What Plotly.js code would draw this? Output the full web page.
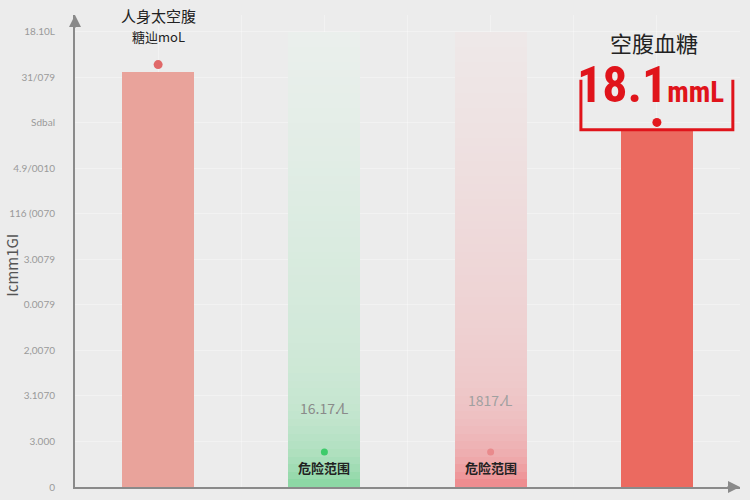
<!DOCTYPE html>
<html>
<head>
<meta charset="utf-8">
<script src="https://cdn.plot.ly/plotly-3.0.1.min.js"></script>
<style>html,body{margin:0;padding:0;background:#ececec;}#chart{width:750px;height:500px;}</style>
</head>
<body>
<div id="chart"></div>
<script>
// ---- data ----
const categories = [0, 1, 2, 3];
const barValues = [9.12, null, null, 7.85];
const rangeTops = [null, 10.0, 10.0, null];
const tickVals = [0, 1, 2, 3, 4, 5, 6, 7, 8, 9, 10];
const tickText = ['0', '3.000', '3.1070', '2,0070', '0.0079', '3.0079', '116 (0070', '4.9/0010', 'Sdbal', '31/079', '18.10L'];
const topTitle = ['人身太空腹', '糖辿moL'];
const rightTitle = '空腹血糖';
const bigValue = '18.1';
const bigUnit = 'mmL';
const rangeLabels = [null, '16.17.⁄L', '1817.⁄L', null];
const rangeTexts = [null, '危险范围', '危险范围', null];

const BAR_W = 0.433;
const FONT = '"Noto Sans CJK SC", "Noto Sans", sans-serif';

const traces = [];

// gradient columns (danger ranges) built as thin stacked slices
const N = 60;
function mix(a, b, t) { return a.map((v, i) => Math.round(v + (b[i] - v) * t)); }
function gradColor(kind, frac) {
  const g = 1 - frac;
  const w = Math.min(1, 0.4 * Math.pow(g, 1.2) + 0.6 * Math.pow(g, 12));
  const c = kind === 'g'
    ? mix([234, 239, 236], [135, 214, 160], w)
    : mix([238, 232, 232], [238, 135, 138], w);
  return 'rgb(' + c.join(',') + ')';
}
const colIdx = categories.filter((c, i) => rangeTops[i] !== null);
for (let s = 0; s < N; s++) {
  const xs = [], bases = [], ys = [], cols = [];
  colIdx.forEach(ci => {
    const top = rangeTops[ci];
    const h = top / N;
    xs.push(categories[ci]);
    bases.push(s * h);
    ys.push(h * 1.02);
    cols.push(gradColor(ci === 1 ? 'g' : 'p', (s + 0.5) / N));
  });
  traces.push({
    type: 'bar', x: xs, y: ys, base: bases, width: BAR_W,
    marker: { color: cols, line: { width: 0 } },
    hoverinfo: 'skip', showlegend: false
  });
}

// main bars
traces.push({
  type: 'bar', x: categories, y: barValues, width: BAR_W,
  marker: { color: ['#e9a39b', null, null, '#eb6a60'], line: { width: 0 } },
  showlegend: false, hoverinfo: 'skip'
});

// dots above bars
const DOT_OFF = 0.16;
traces.push({
  type: 'scatter', mode: 'markers',
  x: categories.filter((c, i) => barValues[i] !== null),
  y: barValues.filter(v => v !== null).map(v => v + DOT_OFF),
  marker: { size: 9, color: ['#e06868', '#e3191f'] },
  showlegend: false, hoverinfo: 'skip', cliponaxis: false
});
// dots in range columns
traces.push({
  type: 'scatter', mode: 'markers',
  x: colIdx.map(ci => categories[ci]),
  y: [0.77, 0.77],
  marker: { size: 7, color: ['#3ecb6b', '#e98a8c'] },
  showlegend: false, hoverinfo: 'skip'
});

const annotations = [
  // axis arrows
  { xref: 'paper', yref: 'paper', x: 0, y: 1.0, ax: 0, ay: 14, axref: 'pixel', ayref: 'pixel',
    showarrow: true, arrowhead: 2, arrowsize: 1.2, arrowwidth: 2, arrowcolor: '#8a8a8a', text: '' },
  { xref: 'paper', yref: 'paper', x: 1.0, y: 0, ax: -14, ay: 0, axref: 'pixel', ayref: 'pixel',
    showarrow: true, arrowhead: 2, arrowsize: 1.2, arrowwidth: 2, arrowcolor: '#8a8a8a', text: '' },
  // y axis title
  { xref: 'paper', yref: 'paper', x: -0.0955, xanchor: 'center', y: 0.47, text: 'Icmm1GI', textangle: -90, showarrow: false,
    font: { family: FONT, size: 15, color: '#555' } },
  // top titles over bar 1
  { x: categories[0], y: 10.35, text: topTitle[0], showarrow: false, font: { family: FONT, size: 15, color: '#222' } },
  { x: categories[0], y: 9.9, text: topTitle[1], showarrow: false, font: { family: FONT, size: 13, color: '#222' } },
  // right title
  { x: categories[3] - 0.02, y: 9.78, text: rightTitle, showarrow: false, font: { family: FONT, size: 22, color: '#222' } },
  { x: categories[3] - 0.04, y: 8.83, showarrow: false,
    text: '<b><span style="font-size:50px">' + bigValue + '</span><span style="font-size:29px">' + bigUnit + '</span></b>',
    font: { family: '"Liberation Sans Narrow", "Roboto Condensed", Roboto, sans-serif', size: 50, color: '#e0141b' } }
];
colIdx.forEach(ci => {
  annotations.push({ x: categories[ci], y: ci === 1 ? 1.74 : 1.91, text: rangeLabels[ci], showarrow: false,
    font: { family: FONT, size: 14, color: ci === 1 ? '#8a8a8a' : '#a0a0a0' } });
  annotations.push({ x: categories[ci], y: 0.42, text: '<b>' + rangeTexts[ci] + '</b>', showarrow: false,
    font: { family: FONT, size: 13, color: '#222' } });
});

// bracket around right bar label
const bx0 = categories[3] - 0.457, bx1 = categories[3] + 0.457, by0 = barValues[3], by1 = 8.95;
const shapes = [
  { type: 'path', xref: 'x', yref: 'y',
    path: 'M ' + bx0 + ',' + by1 + ' L ' + bx0 + ',' + by0 + ' L ' + bx1 + ',' + by0 + ' L ' + bx1 + ',' + by1,
    line: { color: '#e0141b', width: 3 } }
];

const layout = {
  width: 750, height: 500,
  margin: { l: 75, r: 10, t: 15, b: 13 },
  paper_bgcolor: '#ececec', plot_bgcolor: '#ececec',
  barmode: 'overlay', bargap: 0,
  font: { family: FONT },
  xaxis: { range: [-0.5, 3.5], showticklabels: false, showgrid: true, gridcolor: 'rgba(255,255,255,0.35)',
    zeroline: false, showline: true, linecolor: '#8a8a8a', linewidth: 2, ticks: '', fixedrange: true },
  yaxis: { range: [0, 10.37], tickvals: tickVals, ticktext: tickText, ticks: '', ticklabelstandoff: 16,
    tickfont: { family: 'Lato, "Noto Sans", sans-serif', size: 10, color: '#9a9a9a' },
    showgrid: true, gridcolor: 'rgba(255,255,255,0.35)', zeroline: false,
    showline: true, linecolor: '#8a8a8a', linewidth: 2 },
  annotations: annotations,
  shapes: shapes,
  showlegend: false
};

Plotly.newPlot('chart', traces, layout, { displayModeBar: false, staticPlot: true });
</script>
</body>
</html>
